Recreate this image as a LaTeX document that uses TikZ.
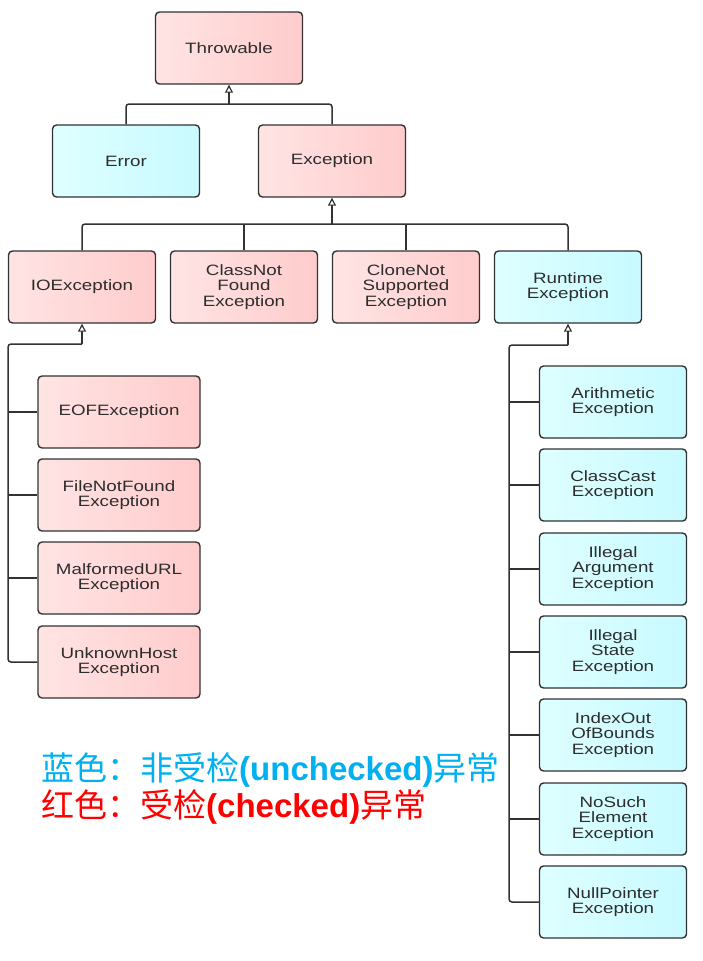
\documentclass[tikz,border=0pt]{standalone}
\usepackage{fontspec}
\setmainfont{Liberation Sans}
\newfontfamily\boxfont[FakeStretch=1.25]{Liberation Sans}
\newfontfamily\cjk{Noto Sans CJK SC}
\usetikzlibrary{arrows.meta}
\definecolor{pinkfill}{RGB}{255,204,204}
\definecolor{pinklight}{RGB}{255,228,228}
\definecolor{cyanfill}{RGB}{200,250,255}
\definecolor{cyanlight}{RGB}{222,255,255}
\definecolor{linec}{RGB}{50,50,50}
\definecolor{textc}{RGB}{45,45,45}
\definecolor{legblue}{RGB}{0,176,240}
\definecolor{legred}{RGB}{255,0,0}
\tikzset{
  box/.style={draw=linec, line width=1.4pt, rounded corners=4pt,
    minimum width=147pt, minimum height=72pt, inner sep=0pt, align=center,
    font=\boxfont\fontsize{15}{15.5}\selectfont, text=textc},
  chk/.style={box, left color=pinklight, right color=pinkfill},
  unchk/.style={box, left color=cyanlight, right color=cyanfill},
  widebox/.style={minimum width=162pt},
  conn/.style={draw=linec, line width=1.5pt, rounded corners=3pt},
  tri/.style={-{Triangle[open,length=8pt,width=8pt,line width=1.2pt]}},
  legend/.style={anchor=base west, inner sep=0pt, font=\cjk\fontsize{33}{33}\selectfont}
}
\begin{document}
\begin{tikzpicture}[x=1pt,y=-1pt]
\useasboundingbox (0,0) rectangle (702,961);
% top
\node[chk] (thr) at (229,48) {Throwable};
\node[unchk] (err) at (126,161) {Error};
\node[chk] (exc) at (332,161) {Exception};
% row 2
\node[chk] (ioe) at (82,287) {IOException};
\node[chk] (cnf) at (244,287) {ClassNot\\Found\\Exception};
\node[chk] (cns) at (406,287) {CloneNot\\Supported\\Exception};
\node[unchk] (rte) at (568,287) {Runtime\\Exception};
% IO children
\node[chk,widebox] (eof) at (119,412) {EOFException};
\node[chk,widebox] (fnf) at (119,495) {FileNotFound\\Exception};
\node[chk,widebox] (mue) at (119,578) {MalformedURL\\Exception};
\node[chk,widebox] (uhe) at (119,662) {UnknownHost\\Exception};
% Runtime children
\node[unchk] (ari) at (613,402) {Arithmetic\\Exception};
\node[unchk] (cce) at (613,485) {ClassCast\\Exception};
\node[unchk] (iae) at (613,569) {Illegal\\Argument\\Exception};
\node[unchk] (ise) at (613,652) {Illegal\\State\\Exception};
\node[unchk] (ioob) at (613,735) {IndexOut\\OfBounds\\Exception};
\node[unchk] (nse) at (613,819) {NoSuch\\Element\\Exception};
\node[unchk] (npe) at (613,902) {NullPointer\\Exception};
% Throwable tree
\coordinate (b1) at (229,104);
\draw[conn] (err.north) |- (b1) -| (exc.north);
\draw[conn,tri] (b1) -- (thr.south);
% Exception tree
\coordinate (b2) at (332,224);
\draw[conn] (ioe.north) |- (b2) -| (rte.north);
\draw[conn] (cnf.north) -- (cnf.north |- b2);
\draw[conn] (cns.north) -- (cns.north |- b2);
\draw[conn,tri] (b2) -- (exc.south);
% IO tree
\coordinate (c1) at (82,344);
\coordinate (lx) at (8,0);
\draw[conn,tri] (c1) -- (ioe.south);
\draw[conn] (c1) -| (lx |- uhe.west) -- (uhe.west);
\draw[conn] (lx |- eof.west) -- (eof.west);
\draw[conn] (lx |- fnf.west) -- (fnf.west);
\draw[conn] (lx |- mue.west) -- (mue.west);
% Runtime tree
\coordinate (c2) at (568,345);
\coordinate (rx) at (509,0);
\draw[conn,tri] (c2) -- (rte.south);
\draw[conn] (c2) -| (rx |- npe.west) -- (npe.west);
\foreach \n in {ari,cce,iae,ise,ioob,nse}
  \draw[conn] (rx |- \n.west) -- (\n.west);
% legend
\node[legend, text=legblue] (leg1) at (41,780) {蓝色：非受检{\rmfamily\bfseries (unchecked)}异常};
\node[legend, text=legred] (leg2) at (41,817) {红色：受检{\rmfamily\bfseries (checked)}异常};
\end{tikzpicture}
\end{document}
